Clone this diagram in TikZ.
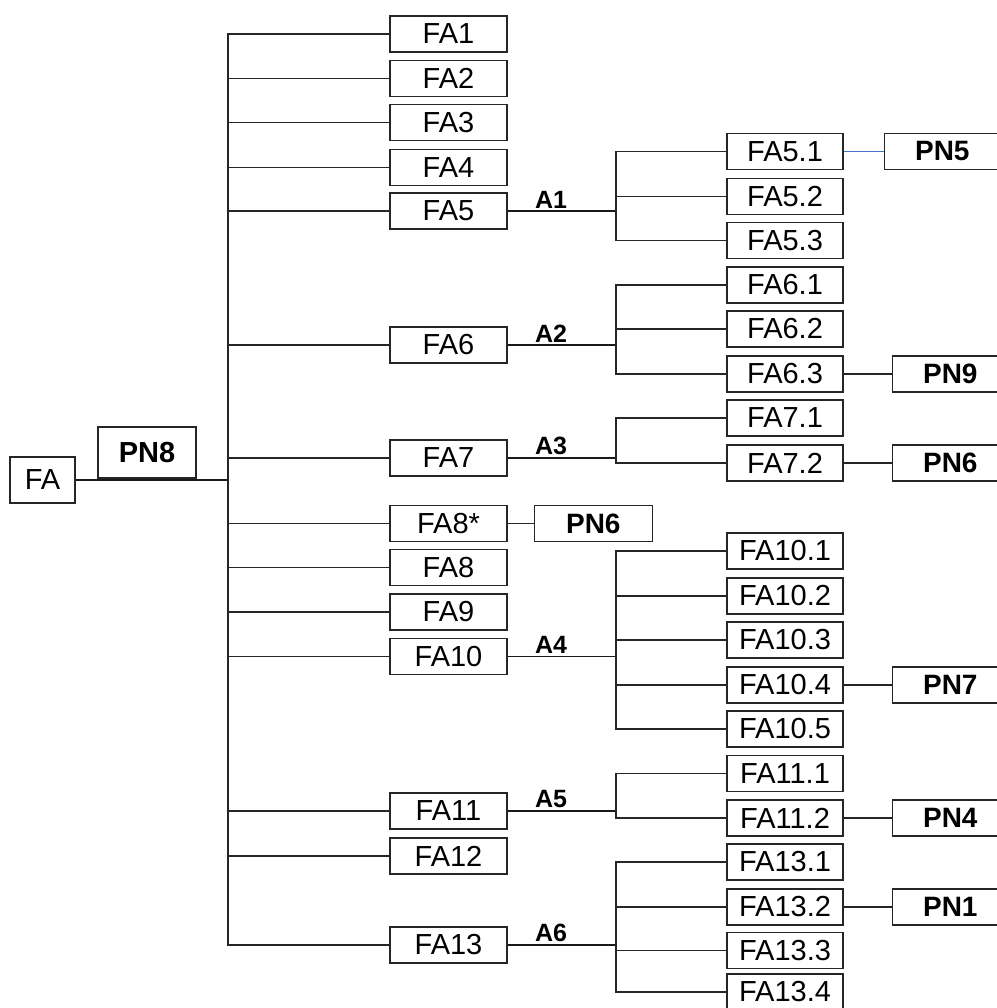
\documentclass[tikz,border=0pt]{standalone}
\usepackage{fontspec}
\setmainfont{Liberation Sans}
\usepackage{tikz}
\usetikzlibrary{positioning}
\definecolor{linkblue}{RGB}{68,114,196}
\tikzset{
    fabox/.style={
        rectangle,
        draw=black!85,
        line width=1.3pt,
        minimum width=117pt,
        minimum height=36pt,
        inner sep=0pt,
        font=\fontsize{29}{34}\selectfont
    },
    pnbox/.style={
        fabox,
        minimum width=116pt,
        font=\fontsize{28}{34}\selectfont\bfseries
    },
    alabel/.style={
        above,
        pos=0.4,
        inner sep=2pt,
        font=\fontsize{25}{30}\selectfont\bfseries
    },
    link/.style={draw=black!85, line width=1.2pt},
    arm/.style={draw=black!90, line width=1.9pt}
}

\begin{document}
\begin{tikzpicture}[x=1pt, y=-1pt, node distance=48pt]
    \useasboundingbox (0,0) rectangle (996,1008);

    \node (fa) [fabox, minimum width=65pt, minimum height=46pt] at (42.5,480) {FA};
    \node (pn8) [pnbox, minimum width=98pt, minimum height=51pt, font=\fontsize{29}{34}\selectfont\bfseries] at (147,452.5) {PN8};
    \coordinate (trunk) at (228,480);

    % first level
    \node (fa1) [fabox] at (448.5,34) {FA1};
    \node (fa2) [fabox] at (448.5,78.5) {FA2};
    \node (fa3) [fabox] at (448.5,122.5) {FA3};
    \node (fa4) [fabox] at (448.5,167.5) {FA4};
    \node (fa5) [fabox] at (448.5,211) {FA5};
    \node (fa6) [fabox] at (448.5,345) {FA6};
    \node (fa7) [fabox] at (448.5,458) {FA7};
    \node (fa8s) [fabox] at (448.5,523.5) {FA8*};
    \node (fa8) [fabox] at (448.5,567.5) {FA8};
    \node (fa9) [fabox] at (448.5,612) {FA9};
    \node (fa10) [fabox] at (448.5,656.5) {FA10};
    \node (fa11) [fabox] at (448.5,811) {FA11};
    \node (fa12) [fabox] at (448.5,856) {FA12};
    \node (fa13) [fabox] at (448.5,945) {FA13};
    \node (pn6a) [pnbox, minimum width=118pt, right=26pt of fa8s] {PN6};

    \coordinate (a1) at (616,211);
    \coordinate (a2) at (616,345);
    \coordinate (a3) at (616,458);
    \coordinate (a4) at (616,656.5);
    \coordinate (a5) at (616,811);
    \coordinate (a6) at (616,945);

    % second level
    \node (fa51) [fabox, minimum width=116pt] at (785,151.5) {FA5.1};
    \node (fa52) [fabox, minimum width=116pt] at (785,196.5) {FA5.2};
    \node (fa53) [fabox, minimum width=116pt] at (785,240.5) {FA5.3};
    \node (fa61) [fabox, minimum width=116pt] at (785,285) {FA6.1};
    \node (fa62) [fabox, minimum width=116pt] at (785,329) {FA6.2};
    \node (fa63) [fabox, minimum width=116pt] at (785,374) {FA6.3};
    \node (fa71) [fabox, minimum width=116pt] at (785,418) {FA7.1};
    \node (fa72) [fabox, minimum width=116pt] at (785,463) {FA7.2};
    \node (fa101) [fabox, minimum width=116pt] at (785,551) {FA10.1};
    \node (fa102) [fabox, minimum width=116pt] at (785,596) {FA10.2};
    \node (fa103) [fabox, minimum width=116pt] at (785,640) {FA10.3};
    \node (fa104) [fabox, minimum width=116pt] at (785,685) {FA10.4};
    \node (fa105) [fabox, minimum width=116pt] at (785,729) {FA10.5};
    \node (fa111) [fabox, minimum width=116pt] at (785,773.5) {FA11.1};
    \node (fa112) [fabox, minimum width=116pt] at (785,818) {FA11.2};
    \node (fa131) [fabox, minimum width=116pt] at (785,862) {FA13.1};
    \node (fa132) [fabox, minimum width=116pt] at (785,907) {FA13.2};
    \node (fa133) [fabox, minimum width=116pt] at (785,950.5) {FA13.3};
    \node (fa134) [fabox, minimum width=116pt] at (785,992) {FA13.4};

    \node (pn5) [pnbox, right=40pt of fa51] {PN5};
    \node (pn9) [pnbox, right=of fa63] {PN9};
    \node (pn6b) [pnbox, right=of fa72] {PN6};
    \node (pn7) [pnbox, right=of fa104] {PN7};
    \node (pn4) [pnbox, right=of fa112] {PN4};
    \node (pn1) [pnbox, right=of fa132] {PN1};

    \draw [arm] (fa) -- (trunk);
    \draw [link] (trunk) |- (fa1);
    \draw [link] (trunk) |- (fa2);
    \draw [link] (trunk) |- (fa3);
    \draw [link] (trunk) |- (fa4);
    \draw [link] (trunk) |- (fa5);
    \draw [link] (trunk) |- (fa6);
    \draw [link] (trunk) |- (fa7);
    \draw [link] (trunk) |- (fa8s);
    \draw [link] (trunk) |- (fa8);
    \draw [link] (trunk) |- (fa9);
    \draw [link] (trunk) |- (fa10);
    \draw [link] (trunk) |- (fa11);
    \draw [link] (trunk) |- (fa12);
    \draw [link] (trunk) |- (fa13);
    \draw [link] (fa8s) -- (pn6a);

    \draw [arm] (fa5) -- node [alabel] {A1} (a1);
    \draw [arm] (fa6) -- node [alabel] {A2} (a2);
    \draw [arm] (fa7) -- node [alabel] {A3} (a3);
    \draw [arm] (fa10) -- node [alabel] {A4} (a4);
    \draw [arm] (fa11) -- node [alabel] {A5} (a5);
    \draw [arm] (fa13) -- node [alabel] {A6} (a6);

    \draw [link] (a1) |- (fa51);
    \draw [link] (a1) |- (fa52);
    \draw [link] (a1) |- (fa53);
    \draw [link] (a2) |- (fa61);
    \draw [link] (a2) |- (fa62);
    \draw [link] (a2) |- (fa63);
    \draw [link] (a3) |- (fa71);
    \draw [link] (a3) |- (fa72);
    \draw [link] (a4) |- (fa101);
    \draw [link] (a4) |- (fa102);
    \draw [link] (a4) |- (fa103);
    \draw [link] (a4) |- (fa104);
    \draw [link] (a4) |- (fa105);
    \draw [link] (a5) |- (fa111);
    \draw [link] (a5) |- (fa112);
    \draw [link] (a6) |- (fa131);
    \draw [link] (a6) |- (fa132);
    \draw [link] (a6) |- (fa133);
    \draw [link] (a6) |- (fa134);

    \draw [link, draw=linkblue] (fa51) -- (pn5);
    \draw [link] (fa63) -- (pn9);
    \draw [link] (fa72) -- (pn6b);
    \draw [link] (fa104) -- (pn7);
    \draw [link] (fa112) -- (pn4);
    \draw [link] (fa132) -- (pn1);
\end{tikzpicture}
\end{document}
